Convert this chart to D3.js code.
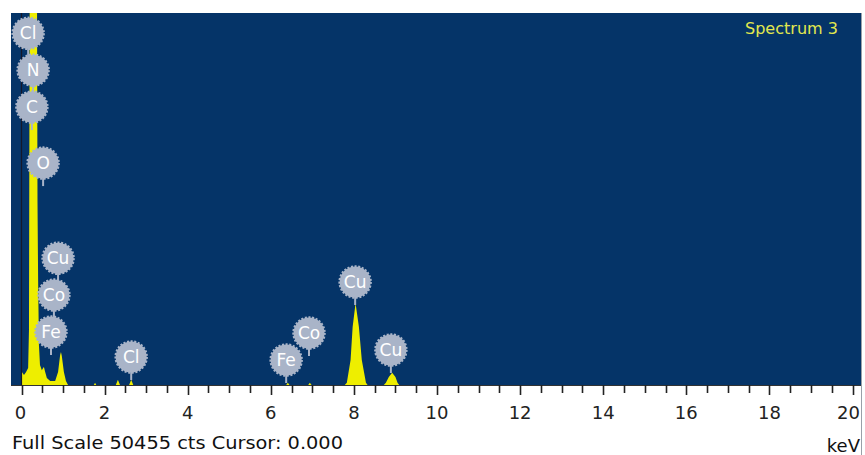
<!DOCTYPE html>
<html>
<head>
<meta charset="UTF-8">
<script src="https://d3js.org/d3.v7.min.js"></script>
<style>
  body { margin: 0; background: #fff; }
  svg { display: block; }
</style>
</head>
<body>
<svg id="chart" width="865" height="455"></svg>
<script>
// energy (keV) and counts of the spectrum outline
const spectrumKeV = [0, 0.01, 0.06, 0.11, 0.16, 0.18, 0.20, 0.37, 0.385, 0.40, 0.42, 0.445, 0.49, 0.52, 0.54, 0.57, 0.61, 0.69, 0.81, 0.88, 0.93, 0.95, 0.97, 1.02, 1.07, 1.12,
  1.74, 1.77, 1.80, 2.27, 2.32, 2.37, 2.59, 2.64, 2.69,
  6.37, 6.41, 6.45, 6.90, 6.94, 6.98,
  7.78, 7.83, 7.92, 7.97, 8.04, 8.12, 8.19, 8.29, 8.33,
  8.72, 8.77, 8.84, 8.92, 9.00, 9.05, 9.09, 20];
const spectrumCounts = [0, 1760, 1360, 1760, 2300, 7500, 60000, 60000, 25000, 14200, 5400, 2700, 2000, 2300, 2440, 1760, 950, 540, 540, 1760, 4070, 4475, 3930, 1760, 540, 0,
  0, 300, 0, 0, 700, 0, 0, 700, 0,
  0, 300, 0, 0, 300, 0,
  0, 300, 3400, 7900, 11100, 7900, 3400, 300, 0,
  0, 300, 1100, 1650, 1100, 300, 0, 0];

// element markers: name, energy (keV), marker height (counts)
const markerNames = ["Cl", "N", "C", "O", "Fe", "Co", "Cu", "Cl", "Fe", "Co", "Cu", "Cu"];
const markerKeV = [0.16, 0.28, 0.25, 0.52, 0.71, 0.78, 0.88, 2.64, 6.37, 6.92, 8.03, 8.89];
const markerCounts = [47700, 42700, 37700, 30100, 7190, 12200, 17200, 3800, 3390, 7050, 13970, 4750];

const tickValues = d3.range(0, 20.01, 2);
const fullScale = 50455;

const svg = d3.select("#chart");
const plot = { left: 11, right: 861, top: 13, bottom: 385 };

const x = d3.scaleLinear().domain([0, 20]).range([21.5, 852.5]);
const y = d3.scaleLinear().domain([0, fullScale]).range([plot.bottom, plot.top]);

// background
svg.append("rect")
  .attr("x", plot.left).attr("y", plot.top)
  .attr("width", plot.right - plot.left).attr("height", plot.bottom - plot.top)
  .attr("fill", "#053468");
svg.append("line")
  .attr("x1", plot.right + 0.5).attr("x2", plot.right + 0.5)
  .attr("y1", plot.top).attr("y2", 455)
  .attr("stroke", "#9aa0a8");

svg.append("clipPath").attr("id", "clip")
  .append("rect")
  .attr("x", plot.left).attr("y", plot.top)
  .attr("width", plot.right - plot.left).attr("height", plot.bottom - plot.top);

// spectrum
const pts = spectrumKeV.map((k, i) => [k, spectrumCounts[i]]);
const area = d3.area()
  .x(d => x(d[0]))
  .y0(y(0))
  .y1(d => y(d[1]));
svg.append("path")
  .datum(pts)
  .attr("clip-path", "url(#clip)")
  .attr("d", area)
  .attr("fill", "#eeee00");

// cursor line at 0.000
svg.append("line")
  .attr("x1", x(0)).attr("x2", x(0))
  .attr("y1", plot.top).attr("y2", plot.bottom)
  .attr("stroke", "#15182a").attr("stroke-width", 1.2);

// markers
const markers = markerNames.map((n, i) => ({ name: n, keV: markerKeV[i], counts: markerCounts[i] }));
const badgeColor = "#a9b4c8";
const mg = svg.append("g");
mg.selectAll("line.stem")
  .data(markers).enter().append("line")
  .attr("class", "stem")
  .attr("x1", d => x(d.keV)).attr("x2", d => x(d.keV))
  .attr("y1", d => y(d.counts)).attr("y2", d => y(d.counts) + 23)
  .attr("stroke", badgeColor).attr("stroke-width", 2);
const badge = mg.selectAll("g.badge")
  .data(markers).enter().append("g")
  .attr("class", "badge")
  .attr("transform", d => `translate(${x(d.keV)},${y(d.counts)})`);
badge.append("circle")
  .attr("r", 15.5)
  .attr("fill", badgeColor)
  .attr("stroke", badgeColor)
  .attr("stroke-width", 2.5)
  .attr("stroke-dasharray", "2 1.6");
badge.append("text")
  .attr("text-anchor", "middle")
  .attr("dy", "0.36em")
  .attr("fill", "#fff")
  .attr("font-family", "DejaVu Sans, sans-serif")
  .attr("font-size", 17)
  .text(d => d.name);

// axis
svg.append("line")
  .attr("x1", plot.left).attr("x2", plot.right)
  .attr("y1", plot.bottom + 0.5).attr("y2", plot.bottom + 0.5)
  .attr("stroke", "#333");
const minor = d3.range(0, 20.01, 0.5);
svg.append("g").selectAll("line")
  .data(minor).enter().append("line")
  .attr("x1", d => Math.round(x(d)) + 0.5).attr("x2", d => Math.round(x(d)) + 0.5)
  .attr("y1", plot.bottom)
  .attr("y2", d => plot.bottom + (d % 2 === 0 ? 10 : 8))
  .attr("stroke", "#222").attr("stroke-width", 1.6);
svg.append("g").selectAll("text")
  .data(tickValues).enter().append("text")
  .attr("x", d => d === 0 ? x(d) - 1 : (d === 20 ? 860 : x(d)))
  .attr("y", 419)
  .attr("text-anchor", d => d === 20 ? "end" : "middle")
  .attr("font-family", "DejaVu Sans, sans-serif")
  .attr("font-size", 18)
  .attr("fill", "#222")
  .text(d => d);

svg.append("text")
  .attr("x", 12).attr("y", 449)
  .attr("font-family", "DejaVu Sans, sans-serif")
  .attr("font-size", 18)
  .attr("textLength", 331)
  .attr("lengthAdjust", "spacingAndGlyphs")
  .attr("fill", "#111")
  .text("Full Scale " + fullScale + " cts Cursor: 0.000");

svg.append("text")
  .attr("x", 860).attr("y", 452)
  .attr("text-anchor", "end")
  .attr("font-family", "DejaVu Sans, sans-serif")
  .attr("font-size", 18)
  .attr("fill", "#111")
  .text("keV");

svg.append("text")
  .attr("x", 745).attr("y", 34)
  .attr("font-family", "DejaVu Sans, sans-serif")
  .attr("font-size", 15)
  .attr("textLength", 93)
  .attr("lengthAdjust", "spacingAndGlyphs")
  .attr("fill", "#e2e84e")
  .text("Spectrum 3");
</script>
</body>
</html>
